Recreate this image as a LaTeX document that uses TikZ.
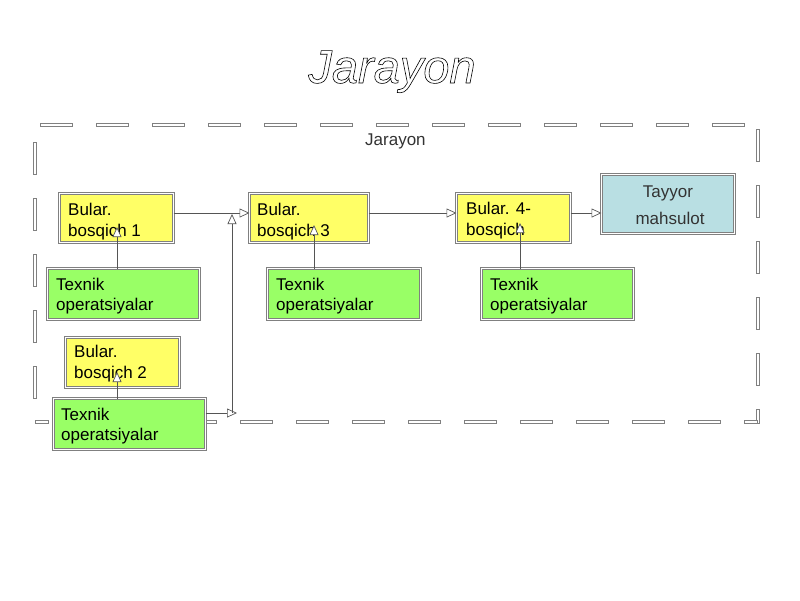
\documentclass[tikz,border=0pt]{standalone}
\usepackage{fontspec}
\setmainfont{Liberation Sans}
\usetikzlibrary{arrows.meta}
\definecolor{byellow}{HTML}{FFFF66}
\definecolor{bgreen}{HTML}{99FF66}
\definecolor{bblue}{HTML}{B9DFE3}
\definecolor{edgec}{HTML}{808080}
\definecolor{connc}{HTML}{555555}
\begin{document}
\begin{tikzpicture}[x=1pt,y=-1pt,
  box/.style={draw=edgec, double=white, double distance=1.8pt, line width=0.6pt,
    anchor=north west, inner sep=0pt, outer sep=0pt},
  ybox/.style={box, fill=byellow},
  gbox/.style={box, fill=bgreen},
  bbox/.style={box, fill=bblue},
  tx/.style={anchor=north west, inner sep=0pt, align=left, text=black,
    font=\fontsize{17}{21}\selectfont},
  gtx/.style={tx, font=\fontsize{17}{20}\selectfont},
  arr/.style={draw=connc, line width=0.7pt,
    -{Triangle[open, length=10pt, width=9pt, fill=white]}},
  dashbox/.style={draw=edgec, fill=white, line width=0.6pt}
]
\useasboundingbox (0,0) rectangle (800,600);
\fill[white] (0,0) rectangle (800,600);

% dashed frame, dash by dash
\foreach \s in {40,96,...,712}
  \draw[dashbox] (\s,123.7) rectangle ({\s+32},126.3);
\foreach \s in {129,185,...,353}
  \draw[dashbox] (756.7,\s) rectangle (759.3,{\s+32});
\draw[dashbox] (756.7,409) rectangle (759.3,423.3);
\draw[dashbox] (35,420.7) rectangle (48,423.3);
\foreach \s in {72,128,...,688}
  \draw[dashbox] (\s,420.7) rectangle ({\s+32},423.3);
\draw[dashbox] (744,420.7) rectangle (757,423.3);
\foreach \s in {142,198,...,366}
  \draw[dashbox] (33.7,\s) rectangle (36.3,{\s+32});

% titles
\node[anchor=base, inner sep=0pt] (title) at (392,83)
  {\fontsize{47}{50}\selectfont\itshape\special{pdf:code 1 Tr 0.6 w}Jarayon\special{pdf:code 0 Tr}};
\node[anchor=base west, inner sep=0pt, font=\fontsize{17}{20}\selectfont, text=black!80] (lab) at (365,145) {Jarayon};

% boxes
\node[ybox, minimum width=114pt, minimum height=49pt] (B1) at (59.5,193.5) {};
\node[ybox, minimum width=119pt, minimum height=49pt] (B3) at (249.5,193.5) {};
\node[ybox, minimum width=114pt, minimum height=49pt] (B4) at (456.5,193.5) {};
\node[bbox, minimum width=133pt, minimum height=59pt] (T) at (601.5,174.5) {};
\node[ybox, minimum width=114pt, minimum height=50pt] (B2) at (65.5,337.5) {};
\node[gbox, minimum width=152pt, minimum height=51pt] (G1) at (47.5,268.5) {};
\node[gbox, minimum width=153pt, minimum height=51pt] (G3) at (267.5,268.5) {};
\node[gbox, minimum width=152pt, minimum height=51pt] (G4) at (481.5,268.5) {};
\node[gbox, minimum width=152pt, minimum height=51pt] (G2) at (53.5,398.5) {};

% texts
\node[tx] (B1t) at (68,202.8) {Bular.\\bosqich 1};
\node[tx] (B3t) at (257,202.8) {Bular.\\bosqich 3};
\node[tx] (B4t) at (466,201.8) {Bular. 4-\\bosqich};
\node[tx] (B2t) at (74,344.8) {Bular.\\bosqich 2};
\node[gtx] (G1t) at (56,277.8) {Texnik\\operatsiyalar};
\node[gtx] (G3t) at (276,277.8) {Texnik\\operatsiyalar};
\node[gtx] (G4t) at (490,277.8) {Texnik\\operatsiyalar};
\node[gtx] (G2t) at (61,407.8) {Texnik\\operatsiyalar};
\node[anchor=base, inner sep=0pt, font=\fontsize{17}{20}\selectfont, text=black!80] (Tt1) at (668,197) {Tayyor};
\node[anchor=base, inner sep=0pt, font=\fontsize{17}{20}\selectfont, text=black!80] (Tt2) at (670,224) {mahsulot};

% connectors
\coordinate (h) at (0,213);
\draw[arr] (B1.east |- h) -- (B3.west |- h);
\draw[arr] (B3.east |- h) -- (B4.west |- h);
\draw[arr] (B4.east |- h) -- (T.west |- h);

\coordinate (t1) at (117,227);
\coordinate (t3) at (314,225);
\coordinate (t4) at (520,223);
\coordinate (t2) at (117,372);
\draw[arr] (G1.north -| t1) -- (t1);
\draw[arr] (G3.north -| t3) -- (t3);
\draw[arr] (G4.north -| t4) -- (t4);
\draw[arr] (G2.north -| t2) -- (t2);

\coordinate (j) at (237,413);
\coordinate (jb) at (232,413);
\coordinate (jt) at (232,214);
\draw[arr] (G2.east |- j) -- (j);
\draw[arr] (jb) -- (jt);
\end{tikzpicture}
\end{document}
